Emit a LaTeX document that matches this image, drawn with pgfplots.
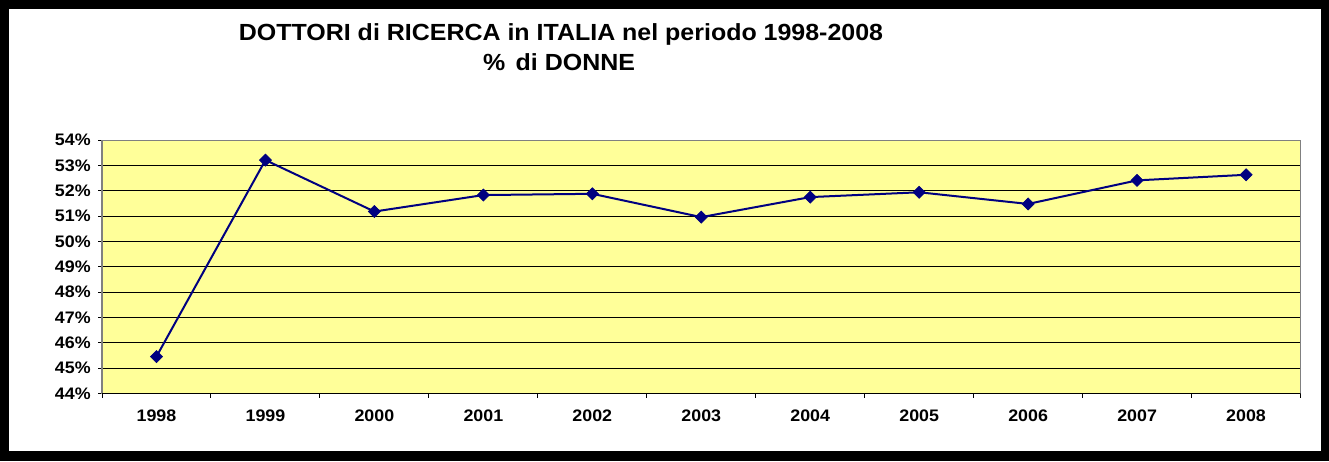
\documentclass[border=0pt]{standalone}
\usepackage{pgfplots}
\pgfplotsset{compat=1.18}
\usepackage{fontspec}
\setmainfont{Liberation Sans}
\newfontfamily\widefont[FakeStretch=1.07]{Liberation Sans}
\definecolor{plotbg}{HTML}{FFFF99}
\definecolor{navy}{HTML}{000080}
\definecolor{boxgray}{HTML}{808080}
\begin{document}
\begin{tikzpicture}
\fill[black] (0pt,0pt) rectangle (996.75pt,345.75pt);
\fill[white] (6.75pt,7.5pt) rectangle (990.75pt,339pt);
\node[anchor=base,font=\widefont\fontsize{17.5}{20}\selectfont\bfseries] at (420.75pt,315pt) {DOTTORI di RICERCA in ITALIA nel periodo 1998-2008};
\node[anchor=base,font=\widefont\fontsize{17.5}{20}\selectfont\bfseries] at (419.25pt,292.5pt) {\%\hspace{0.45em}di DONNE};
\begin{axis}[
  at={(76.5pt,50.6pt)}, anchor=south west,
  scale only axis, width=898.9pt, height=190.1pt,
  xmin=-0.5, xmax=10.5, ymin=44, ymax=54,
  axis background/.style={fill=plotbg},
  axis line style={draw=boxgray, line width=0.8pt},
  xtick={0,...,10},
  xticklabels={1998,1999,2000,2001,2002,2003,2004,2005,2006,2007,2008},
  minor xtick={-0.5,0.5,...,10.5},
  major x tick style={draw=none},
  minor x tick style={black, line width=0.75pt},
  minor tick length=3pt,
  ytick={44,...,54},
  yticklabels={44\%,45\%,46\%,47\%,48\%,49\%,50\%,51\%,52\%,53\%,54\%},
  major y tick style={black, line width=0.75pt},
  major tick length=3pt,
  tick align=outside,
  tick pos=left,
  ymajorgrids,
  major grid style={black, line width=0.75pt},
  /pgf/number format/assume math mode=true,
  ticklabel style={font=\widefont\fontsize{12.5}{14}\selectfont\bfseries},
  xticklabel style={yshift=-6pt},
  yticklabel style={xshift=-2pt},
]
\addplot[navy, line width=1.5pt, mark=square*, mark size=3.2pt,
  mark options={rotate=45, fill=navy, draw=navy, line width=0.5pt}]
  coordinates {(0,45.46) (1,53.21) (2,51.18) (3,51.83) (4,51.88) (5,50.96)
               (6,51.75) (7,51.94) (8,51.48) (9,52.41) (10,52.63)};
\draw[black, line width=1.2pt] (rel axis cs:0,0) -- (rel axis cs:1,0);
\end{axis}
\pgfresetboundingbox
\useasboundingbox (0pt,0pt) rectangle (996.75pt,345.75pt);
\end{tikzpicture}
\end{document}
